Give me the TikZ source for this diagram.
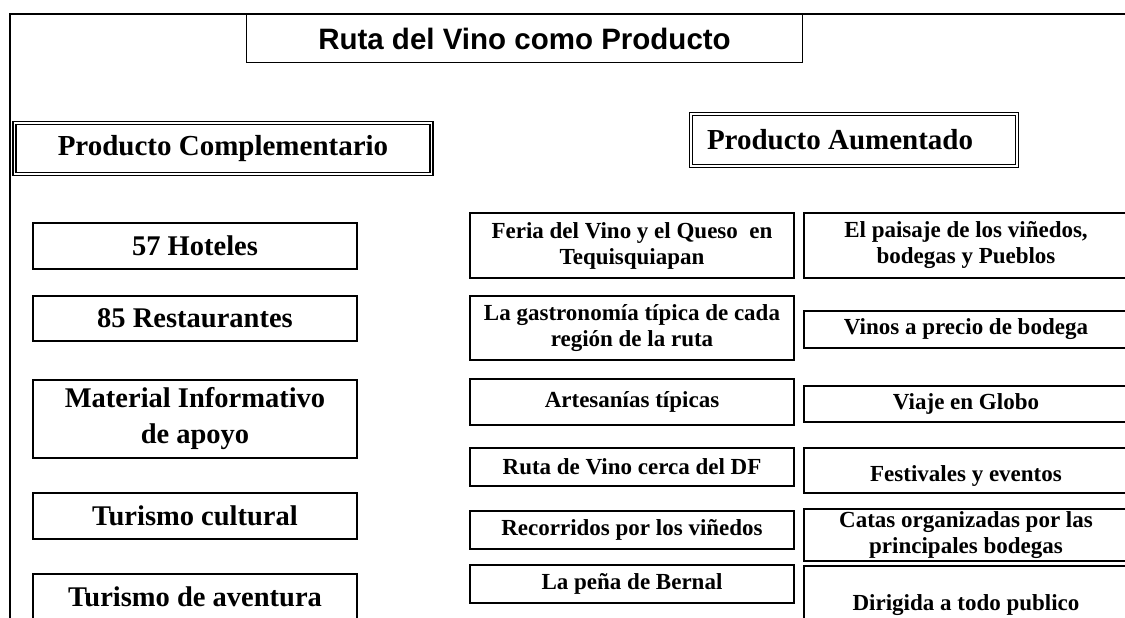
\documentclass[tikz,border=0pt]{standalone}
\usepackage{fontspec}
\setmainfont{Liberation Serif}
\newfontfamily\titlefont{Liberation Sans}
\tikzset{
  titulo/.style={draw, line width=1.3pt, inner sep=0pt, font=\titlefont\bfseries\fontsize{29.5}{32}\selectfont},
  encab/.style={draw, double, line width=1.3pt, double distance=1.8pt, inner sep=0pt, font=\bfseries\fontsize{29}{34}\selectfont},
  caja/.style={draw, line width=1.6pt, inner sep=0pt, align=center},
  izq/.style={caja, minimum width=324pt, font=\bfseries\fontsize{28.5}{36}\selectfont},
  medio/.style={caja, minimum width=324pt, font=\bfseries\fontsize{23}{26}\selectfont}
}
\begin{document}
\begin{tikzpicture}[x=1pt, y=-1pt]
\useasboundingbox (0,0) rectangle (1125,618);
% Rahmen
\draw[line width=1.5pt] (10,650) -- (10,14) -- (1150,14);
% Titel
\node[titulo, minimum width=556pt, minimum height=48pt] (tit) at (524.5,38.5) {Ruta del Vino como Producto};
% Ueberschriften
\node[encab, minimum width=417pt, minimum height=51pt] (comp) at (223,148.5) {Producto Complementario};
\node[encab, inner xsep=16pt, text width=294pt, align=flush left, minimum height=52pt] (aum) at (854,140) {Producto Aumentado};
% Producto Complementario
\node[izq, minimum height=46pt] (hot) at (195,246) {57 Hoteles};
\node[izq, minimum height=45pt] (res) at (195,318.5) {85 Restaurantes};
\node[izq, minimum height=78pt] (mat) at (195,419) {Material Informativo\\de apoyo};
\node[izq, minimum height=46pt] (cul) at (195,516) {Turismo cultural};
\node[izq, minimum height=46pt] (ave) at (195,597) {Turismo de aventura};
% Producto Aumentado, Mitte
\node[medio, minimum height=65pt] (fer) at (632,245.5) {Feria del Vino y el Queso~ en\\Tequisquiapan};
\node[medio, minimum height=64pt] (gas) at (632,328) {La gastronomía típica de cada\\región de la ruta};
\node[medio, minimum height=46pt] (art) at (632,402) {Artesanías típicas};
\node[medio, minimum height=38pt] (rdf) at (632,467) {Ruta de Vino cerca del DF};
\node[medio, minimum height=38pt] (rec) at (632,530) {Recorridos por los viñedos};
\node[medio, minimum height=38pt] (pen) at (632,584) {La peña de Bernal};
% Producto Aumentado, rechts
\node[medio, minimum height=65pt] (pai) at (966,245.5) {El paisaje de los viñedos,\\bodegas y Pueblos};
\node[medio, minimum height=37pt] (vin) at (966,329.5) {Vinos a precio de bodega};
\node[medio, minimum height=36pt] (via) at (966,404) {Viaje en Globo};
\node[medio, minimum height=45pt, text height=27pt, text depth=5pt] (fes) at (966,470.5) {Festivales y eventos};
\node[medio, minimum height=52pt] (cat) at (966,535) {Catas organizadas por las\\principales bodegas};
\node[medio, minimum height=78pt] (dir) at (966,605) {Dirigida a todo publico};
\end{tikzpicture}
\end{document}
